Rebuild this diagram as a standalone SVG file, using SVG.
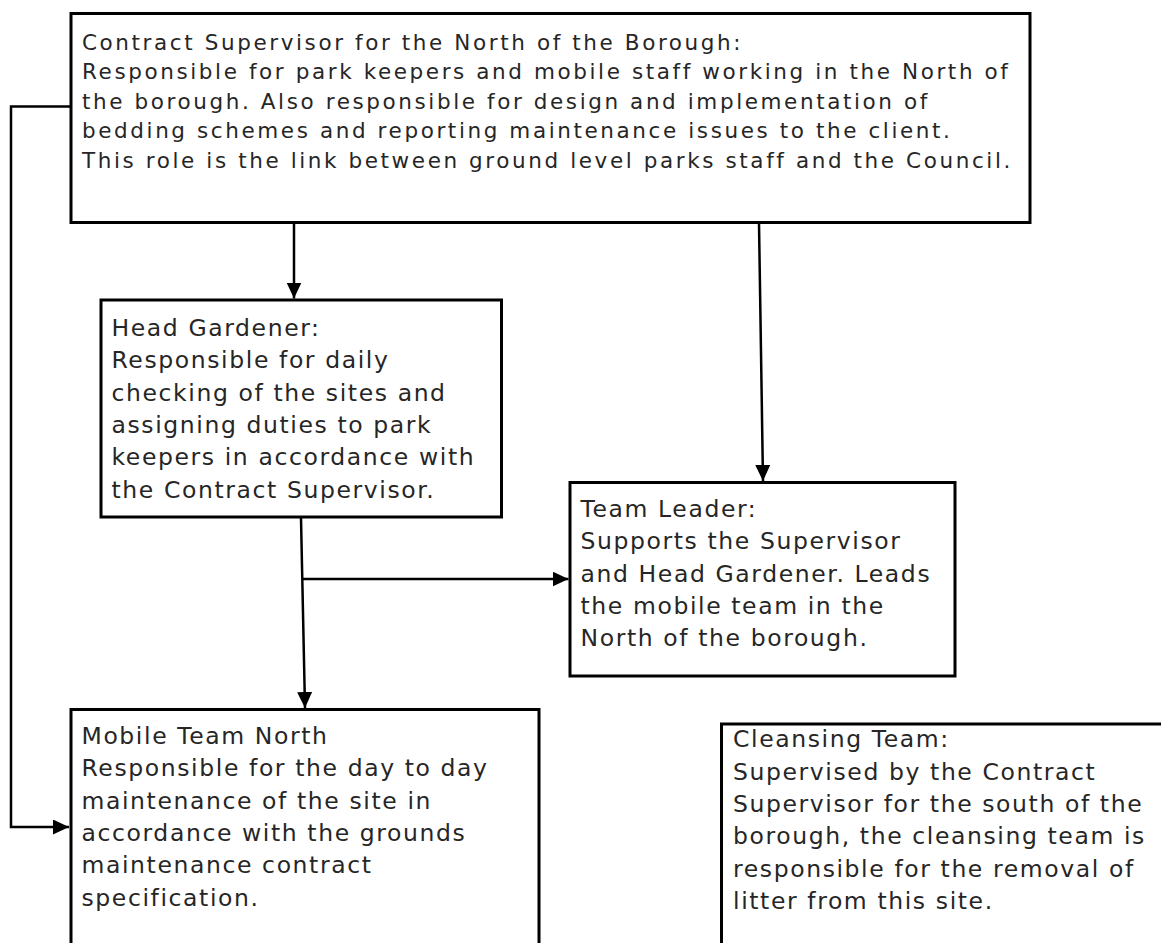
<svg xmlns="http://www.w3.org/2000/svg" width="1161" height="943" viewBox="0 0 1161 943">
<style>
.box{fill:#fff;stroke:#000;stroke-width:3}
.con{fill:none;stroke:#000;stroke-width:2.5}
text{font-family:"DejaVu Sans",Verdana,sans-serif;fill:#262626}
.t1{font-size:21.5px;letter-spacing:2.6px}
.t2{font-size:23.5px;letter-spacing:1.6px}
</style>
<defs>
<marker id="arr" markerUnits="userSpaceOnUse" viewBox="0 0 16 15" refX="16" refY="7.5" markerWidth="16" markerHeight="15" orient="auto">
<path d="M0,0 L16,7.5 L0,15 Z" fill="#000"/>
</marker>
</defs>
<rect width="1161" height="943" fill="#fff"/>
<g id="connectors">
<path class="con" d="M71,106.5 H11 V827 H69" marker-end="url(#arr)"/>
<path class="con" d="M294,223 L294,298.5" marker-end="url(#arr)"/>
<path class="con" d="M759,223 L763,481" marker-end="url(#arr)"/>
<path class="con" d="M301,518 L305,708" marker-end="url(#arr)"/>
<path class="con" d="M302,579 L568.5,579" marker-end="url(#arr)"/>
</g>
<g id="contract-supervisor">
<rect class="box" x="71" y="13.5" width="959" height="209"/>
<text class="t1" x="82" y="49.5">Contract Supervisor for the North of the Borough:</text>
<text class="t1" x="82" y="79.1">Responsible for park keepers and mobile staff working in the North of</text>
<text class="t1" x="82" y="108.7">the borough. Also responsible for design and implementation of</text>
<text class="t1" x="82" y="138.3">bedding schemes and reporting maintenance issues to the client.</text>
<text class="t1" x="82" y="167.9">This role is the link between ground level parks staff and the Council.</text>
</g>
<g id="head-gardener">
<rect class="box" x="101" y="300" width="400.5" height="217"/>
<text class="t2" x="111.5" y="336">Head Gardener:</text>
<text class="t2" x="111.5" y="368.3">Responsible for daily</text>
<text class="t2" x="111.5" y="400.6">checking of the sites and</text>
<text class="t2" x="111.5" y="432.9">assigning duties to park</text>
<text class="t2" x="111.5" y="465.2">keepers in accordance with</text>
<text class="t2" x="111.5" y="497.5">the Contract Supervisor.</text>
</g>
<g id="team-leader">
<rect class="box" x="570" y="482.5" width="385" height="193.5"/>
<text class="t2" x="580.5" y="517">Team Leader:</text>
<text class="t2" x="580.5" y="549.3">Supports the Supervisor</text>
<text class="t2" x="580.5" y="581.6">and Head Gardener. Leads</text>
<text class="t2" x="580.5" y="613.9">the mobile team in the</text>
<text class="t2" x="580.5" y="646.2">North of the borough.</text>
</g>
<g id="mobile-team-north">
<rect class="box" x="71" y="709.5" width="468" height="260"/>
<text class="t2" x="81.5" y="744">Mobile Team North</text>
<text class="t2" x="81.5" y="776.3">Responsible for the day to day</text>
<text class="t2" x="81.5" y="808.6">maintenance of the site in</text>
<text class="t2" x="81.5" y="840.9">accordance with the grounds</text>
<text class="t2" x="81.5" y="873.2">maintenance contract</text>
<text class="t2" x="81.5" y="905.5">specification.</text>
</g>
<g id="cleansing-team">
<rect class="box" x="721.5" y="724" width="500" height="260"/>
<text class="t2" x="733" y="747.3">Cleansing Team:</text>
<text class="t2" x="733" y="779.6">Supervised by the Contract</text>
<text class="t2" x="733" y="811.9">Supervisor for the south of the</text>
<text class="t2" x="733" y="844.2">borough, the cleansing team is</text>
<text class="t2" x="733" y="876.5">responsible for the removal of</text>
<text class="t2" x="733" y="908.8">litter from this site.</text>
</g>
</svg>
